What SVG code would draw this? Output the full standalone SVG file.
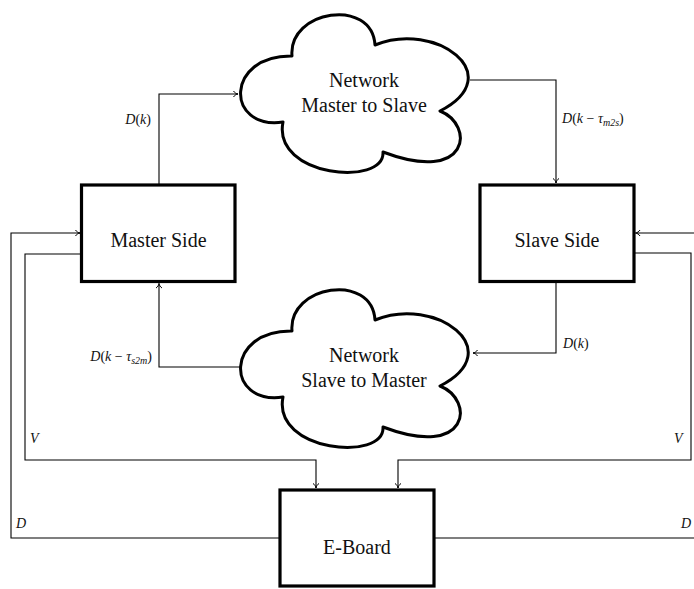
<svg xmlns="http://www.w3.org/2000/svg" width="694" height="589" viewBox="0 0 694 589">
  <defs>
    <style>
      .box { fill: #fff; stroke: #000; stroke-width: 3.2; }
      .cloud { fill: #fff; stroke: #000; stroke-width: 3; stroke-linejoin: round; }
      .conn { fill: none; stroke: #000; stroke-width: 1.1; marker-end: url(#arr); }
      .plain { fill: none; stroke: #000; stroke-width: 1.1; }
      .lbl { font-family: "Liberation Serif", "Times New Roman", serif; font-size: 20px; fill: #111; text-anchor: middle; }
      .math { font-family: "Liberation Serif", "Times New Roman", serif; font-size: 14px; fill: #111; }
      .it { font-style: italic; }
      .sub { font-style: italic; font-size: 10px; }
    </style>
    <marker id="arr" viewBox="-6 -4 8 8" refX="0" refY="0" markerWidth="8" markerHeight="8" orient="auto" markerUnits="userSpaceOnUse">
      <path d="M-4.5,-3 C-3.5,-1.2 -1.5,-0.3 0,0 C-1.5,0.3 -3.5,1.2 -4.5,3" fill="none" stroke="#000" stroke-width="1"/>
    </marker>
    <path id="cloudShape" d="M292,331 C288,285 372,272 375,320 C435,295 510,350 440,386 C475,400 470,460 383,427 C385,462 272,452 283,397 C225,405 225,330 292,331 Z"/>
  </defs>

  <g id="connectors">
    <path class="conn" d="M159,185 L159,94 L238,94"/>
    <path class="conn" d="M470,80 L556,80 L556,183"/>
    <path class="conn" d="M556,282 L556,353 L473,353"/>
    <path class="conn" d="M240,367 L159,367 L159,283.5"/>
    <path class="conn" d="M280,538 L11,538 L11,233 L80,233"/>
    <path class="conn" d="M81,254 L25,254 L25,460 L316,460 L316,488"/>
    <path class="conn" d="M634,253 L691,253 L691,460 L398,460 L398,488"/>
    <path class="conn" d="M700,233 L635.5,233"/>
    <path class="plain" d="M434,538 L700,538"/>
    <text class="math" x="151" y="124" text-anchor="end"><tspan class="it">D</tspan>(<tspan class="it">k</tspan>)</text>
    <text class="math" x="562" y="123"><tspan class="it">D</tspan>(<tspan class="it">k</tspan> − <tspan class="it">τ</tspan><tspan class="sub" dy="3">m2s</tspan><tspan dy="-3">)</tspan></text>
    <text class="math" x="563" y="348"><tspan class="it">D</tspan>(<tspan class="it">k</tspan>)</text>
    <text class="math" x="152" y="361" text-anchor="end"><tspan class="it">D</tspan>(<tspan class="it">k</tspan> − <tspan class="it">τ</tspan><tspan class="sub" dy="3">s2m</tspan><tspan dy="-3">)</tspan></text>
    <text class="math it" x="30" y="443">V</text>
    <text class="math it" x="674" y="443">V</text>
    <text class="math it" x="16" y="528">D</text>
    <text class="math it" x="681" y="528">D</text>
  </g>

  <g id="master">
    <rect class="box" x="81.5" y="185" width="153.5" height="96.5"/>
    <text class="lbl" x="158.5" y="247">Master Side</text>
  </g>

  <g id="slave">
    <rect class="box" x="480" y="185" width="154" height="96.5"/>
    <text class="lbl" x="557" y="247">Slave Side</text>
  </g>

  <g id="eboard">
    <rect class="box" x="280" y="490" width="154" height="96"/>
    <text class="lbl" x="357" y="554">E-Board</text>
  </g>

  <g id="net-m2s">
    <use href="#cloudShape" class="cloud" transform="translate(0,-275)"/>
    <text class="lbl" x="364" y="87">Network</text>
    <text class="lbl" x="364" y="112">Master to Slave</text>
  </g>

  <g id="net-s2m">
    <use href="#cloudShape" class="cloud"/>
    <text class="lbl" x="364" y="362">Network</text>
    <text class="lbl" x="364" y="387">Slave to Master</text>
  </g>
</svg>
